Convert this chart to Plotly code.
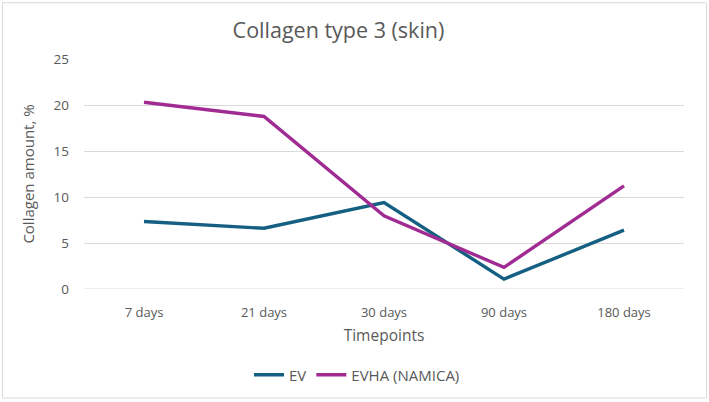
import plotly.graph_objects as go

categories = ["7 days", "21 days", "30 days", "90 days", "180 days"]
ev = [7.33, 6.6, 9.4, 1.08, 6.4]
evha = [20.3, 18.75, 7.95, 2.35, 11.2]
y_ticks = [0, 5, 10, 15, 20, 25]

FONT = "Open Sans"
GRAY = "#595959"

fig = go.Figure()
fig.add_trace(go.Scatter(x=categories, y=ev, name="EV", mode="lines",
                         line=dict(color="#156082", width=3.4)))
fig.add_trace(go.Scatter(x=categories, y=evha, name="EVHA (NAMICA)", mode="lines",
                         line=dict(color="#A02B93", width=3.4)))

L, R, T, B = 84, 25, 59, 112
W, H = 709, 402
pw, ph = W - L - R, H - T - B

def px2paper_x(px):
    return (px - L) / pw

def px2paper_y(py):
    return (H - B - py) / ph

fig.add_shape(type="rect", xref="paper", yref="paper",
              x0=px2paper_x(2.5), x1=px2paper_x(706.5),
              y0=px2paper_y(399.5), y1=px2paper_y(2.5),
              line=dict(color="#D9D9D9", width=1), fillcolor="rgba(0,0,0,0)")

fig.update_layout(
    width=W, height=H,
    margin=dict(l=L, r=R, t=T, b=B),
    paper_bgcolor="white", plot_bgcolor="white",
    font=dict(family=FONT, color=GRAY, size=13),
    title=dict(text="Collagen type 3 (skin)", xref="paper", x=px2paper_x(338.5), xanchor="center",
               y=1 - 30 / H, yanchor="middle",
               font=dict(size=21.5, color=GRAY, family=FONT)),
    xaxis=dict(type="category", showgrid=False, zeroline=False,
               tickfont=dict(size=13, color=GRAY), ticks="",
               ticklabelstandoff=14,
               title=dict(text="Timepoints", font=dict(size=15.5, color=GRAY), standoff=10),
               range=[-0.5, 4.5]),
    yaxis=dict(range=[0, 25], tickvals=y_ticks, showgrid=True, gridcolor="#D9D9D9",
               gridwidth=1, zeroline=False, ticks="", tickfont=dict(size=13.5, color=GRAY),
               ticklabelstandoff=14,
               title=dict(text="Collagen amount, %", font=dict(size=15, color=GRAY), standoff=15)),
    legend=dict(orientation="h", x=px2paper_x(357), xanchor="center", y=px2paper_y(375), yanchor="middle",
                font=dict(size=15, color=GRAY), traceorder="normal"),
    showlegend=True,
)
fig.add_shape(type="line", xref="paper", yref="y", x0=0, x1=1, y0=0, y1=0,
              line=dict(color="#D9D9D9", width=1), layer="below")

fig.write_html("out.html")
